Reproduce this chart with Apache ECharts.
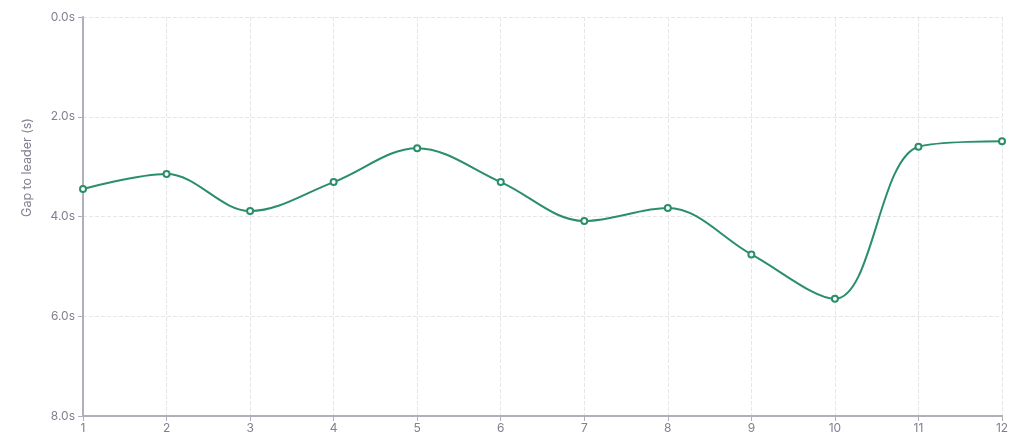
<!DOCTYPE html>
<html><head><meta charset="utf-8">
<script src="https://cdn.jsdelivr.net/npm/echarts@6/dist/echarts.min.js"></script>
<style>html,body{margin:0;padding:0;background:#fff}#c{width:1024px;height:440px}</style>
</head><body><div id="c"></div>
<script>
const laps = ['1','2','3','4','5','6','7','8','9','10','11','12'];
const gaps = [3.45, 3.15, 3.89, 3.31, 2.63, 3.31, 4.09, 3.83, 4.76, 5.65, 2.60, 2.49];
const chart = echarts.init(document.getElementById('c'));
chart.setOption({
  animation: false,
  textStyle: {fontFamily: 'Inter'},
  grid: {left: 83, right: 22, top: 17, bottom: 24},
  xAxis: {
    type: 'category', data: laps, boundaryGap: false,
    axisLine: {onZero: false, lineStyle: {color: '#b0b0ba', width: 2}},
    axisTick: {alignWithLabel: true, lineStyle: {color: '#b0b0ba'}},
    axisLabel: {color: '#808090', fontSize: 12, margin: 6},
    splitLine: {show: true, lineStyle: {color: '#e6e6ea', type: 'dashed'}}
  },
  yAxis: {
    type: 'value', inverse: true, min: 0, max: 8, interval: 2,
    name: 'Gap to leader (s)', nameLocation: 'middle', nameGap: 49,
    nameTextStyle: {color: '#808090', fontSize: 12.5, padding: [0, 0, 0, 98]},
    axisLine: {show: true, lineStyle: {color: '#b0b0ba', width: 2}},
    axisTick: {show: true, lineStyle: {color: '#b0b0ba'}},
    axisLabel: {color: '#808090', fontSize: 12, formatter: v => v.toFixed(1) + 's'},
    splitLine: {lineStyle: {color: '#e6e6ea', type: 'dashed'}}
  },
  series: [{
    type: 'line', data: gaps, smooth: 0.35,
    symbol: 'emptyCircle', symbolSize: 6,
    lineStyle: {color: '#2a8f68', width: 2},
    itemStyle: {color: '#2a8f68', borderWidth: 2}
  }]
});
</script></body></html>
